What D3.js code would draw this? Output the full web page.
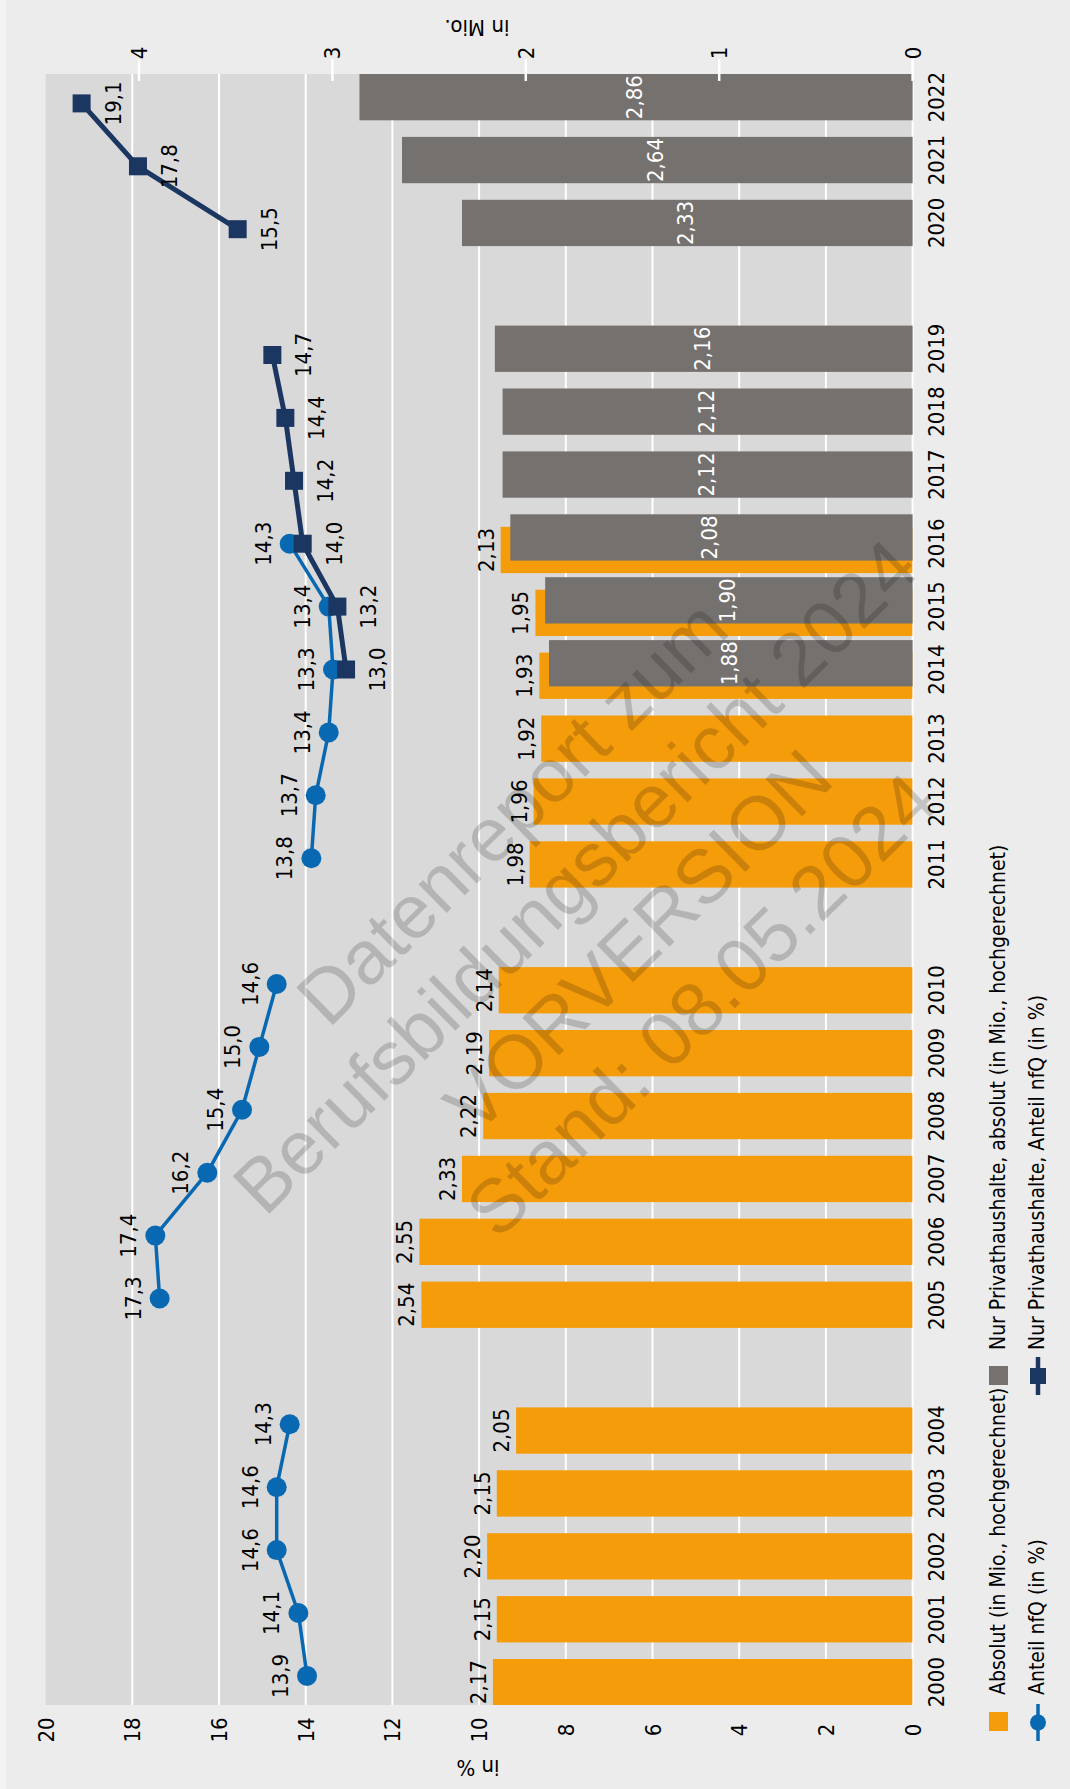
<!DOCTYPE html>
<html>
<head>
<meta charset="utf-8">
<script src="https://cdn.jsdelivr.net/npm/d3@7"></script>
<style>
  html, body { margin: 0; padding: 0; background: #ececec; }
  svg { display: block; }
</style>
</head>
<body>
<script>
// ---------------- DATA ----------------
const years = ["2000","2001","2002","2003","2004","2005","2006","2007","2008","2009","2010","2011","2012","2013","2014","2015","2016","2017","2018","2019","2020","2021","2022"];
// slot sequence incl. empty gap slots (bottom to top)
const slots = ["2000","2001","2002","2003","2004","gapA","2005","2006","2007","2008","2009","2010","gapB","2011","2012","2013","2014","2015","2016","2017","2018","2019","gapC","2020","2021","2022"];
// Absolut (in Mio., hochgerechnet)
const absolut = [2.17,2.15,2.20,2.15,2.05,2.54,2.55,2.33,2.22,2.19,2.14,1.98,1.96,1.92,1.93,1.95,2.13,null,null,null,null,null,null];
// Nur Privathaushalte, absolut (in Mio., hochgerechnet)
const privAbsolut = [null,null,null,null,null,null,null,null,null,null,null,null,null,null,1.88,1.90,2.08,2.12,2.12,2.16,2.33,2.64,2.86];
// Anteil nfQ (in %)
const anteil = [13.9,14.1,14.6,14.6,14.3,17.3,17.4,16.2,15.4,15.0,14.6,13.8,13.7,13.4,13.3,13.4,14.3,null,null,null,null,null,null];
// Nur Privathaushalte, Anteil nfQ (in %)
const privAnteil = [null,null,null,null,null,null,null,null,null,null,null,null,null,null,13.0,13.2,14.0,14.2,14.4,14.7,15.5,17.8,19.1];
const pctTicks = [0,2,4,6,8,10,12,14,16,18,20];
const mioTicks = [0,1,2,3,4];
const legendLabels = ["Absolut (in Mio., hochgerechnet)","Anteil nfQ (in %)","Nur Privathaushalte, absolut (in Mio., hochgerechnet)","Nur Privathaushalte, Anteil nfQ (in %)"];
const axisTitles = {pct: "in %", mio: "in Mio."};
const watermark = ["Datenreport zum","Berufsbildungsbericht 2024","VORVERSION","Stand: 08.05.2024"];

// ---------------- STYLE ----------------
const W = 1070, H = 1789;
const FONT = '"Liberation Sans Narrow","Arial Narrow","DejaVu Sans Condensed",sans-serif';
const C = { orange: "#f59c0b", gray: "#75716f", blue: "#0868b1", navy: "#1b3661", plot: "#d9d9d9", bg: "#ececec" };
const plot = { left: 45.6, right: 912.6, top: 74, bottom: 1705 };
const STEP = 62.9, BW = 46.3, OFF = 12.5;

const svg = d3.select("body").append("svg").attr("width", W).attr("height", H);
svg.append("rect").attr("width", W).attr("height", H).attr("fill", C.bg);
svg.append("rect").attr("width", 6).attr("height", H).attr("fill", "#f3f3f3");

const xPct = d3.scaleLinear().domain([0, 20]).range([plot.right, plot.left]);
// line series are drawn with a small constant offset, as in the original
const xLine = d3.scaleLinear().domain([0, 20]).range([plot.right - 3, plot.left - 3]);
const xMio = d3.scaleLinear().domain([0, 4]).range([plot.right, 139]);
const yBand = d3.scaleBand().domain(slots.slice().reverse())
  .range([plot.top, plot.top + STEP * slots.length]).paddingInner(0).paddingOuter(0);

const fmt2 = v => d3.format(".2f")(v).replace(".", ",");
const fmt1 = v => d3.format(".1f")(v).replace(".", ",");

const rows = years.map((y, i) => ({ year: y, abs: absolut[i], pabs: privAbsolut[i], ant: anteil[i], pant: privAnteil[i] }));
const byYear = new Map(rows.map(r => [r.year, r]));
const slotRows = slots.map(s => byYear.get(s) || { year: s, abs: null, pabs: null, ant: null, pant: null });

const grayTop = r => yBand(r.year);
const orangeTop = r => yBand(r.year) + OFF;
const pointY = r => yBand(r.year) + (OFF + BW) / 2;

// plot background
svg.append("rect").attr("x", plot.left).attr("y", plot.top)
  .attr("width", plot.right - plot.left).attr("height", plot.bottom - plot.top).attr("fill", C.plot);

// gridlines
svg.append("g").selectAll("line").data(pctTicks.filter(t => t < 20)).join("line")
  .attr("x1", d => xPct(d)).attr("x2", d => xPct(d))
  .attr("y1", plot.top).attr("y2", plot.bottom)
  .attr("stroke", "#fff").attr("stroke-width", 2);

svg.append("clipPath").attr("id", "pc").append("rect")
  .attr("x", plot.left).attr("y", plot.top).attr("width", plot.right - plot.left).attr("height", plot.bottom - plot.top);

// orange bars
const absRows = rows.filter(r => r.abs != null);
svg.append("g").attr("clip-path", "url(#pc)").selectAll("rect").data(absRows).join("rect")
  .attr("x", d => xMio(d.abs)).attr("width", d => xMio(0) - xMio(d.abs))
  .attr("y", d => orangeTop(d)).attr("height", BW).attr("fill", C.orange);

// gray bars
const pRows = rows.filter(r => r.pabs != null);
svg.append("g").selectAll("rect").data(pRows).join("rect")
  .attr("x", d => xMio(d.pabs)).attr("width", d => xMio(0) - xMio(d.pabs))
  .attr("y", d => grayTop(d)).attr("height", BW).attr("fill", C.gray);

// orange labels
svg.append("g").selectAll("text").data(absRows).join("text")
  .attr("transform", d => `translate(${xMio(d.abs) - 7},${orangeTop(d) + BW / 2}) rotate(-90)`)
  .attr("text-anchor", "middle").attr("font-family", FONT).attr("font-size", 22).attr("fill", "#000")
  .text(d => fmt2(d.abs));

// gray labels (white, centered)
svg.append("g").selectAll("text").data(pRows).join("text")
  .attr("transform", d => `translate(${(xMio(d.pabs) + xMio(0)) / 2 + 6},${grayTop(d) + BW / 2}) rotate(-90)`)
  .attr("text-anchor", "middle").attr("font-family", FONT).attr("font-size", 22).attr("fill", "#fff")
  .text(d => fmt2(d.pabs));

// Mio ticks (top)
svg.append("g").selectAll("line").data(mioTicks).join("line")
  .attr("x1", d => xMio(d)).attr("x2", d => xMio(d)).attr("y1", 59).attr("y2", 81)
  .attr("stroke", "#fff").attr("stroke-width", 2.5);
svg.append("g").selectAll("text").data(mioTicks).join("text")
  .attr("transform", d => `translate(${xMio(d) + 8},53) rotate(-90)`)
  .attr("text-anchor", "middle").attr("font-family", FONT).attr("font-size", 22).attr("fill", "#000")
  .text(d => d);

// % tick labels (bottom)
svg.append("g").selectAll("text").data(pctTicks).join("text")
  .attr("transform", d => `translate(${xPct(d) + 8},1730) rotate(-90)`)
  .attr("text-anchor", "middle").attr("font-family", FONT).attr("font-size", 22).attr("fill", "#000")
  .text(d => d);

// axis titles (upside down)
svg.append("text").attr("transform", "translate(477,20) rotate(180)")
  .attr("text-anchor", "middle").attr("font-family", FONT).attr("font-size", 22).attr("fill", "#000")
  .text(axisTitles.mio);
svg.append("text").attr("transform", "translate(478,1760) rotate(180)")
  .attr("text-anchor", "middle").attr("font-family", FONT).attr("font-size", 22).attr("fill", "#000")
  .text(axisTitles.pct);

// year labels
svg.append("g").selectAll("text").data(rows).join("text")
  .attr("transform", d => {
    const cs = [];
    if (d.pabs != null) cs.push(grayTop(d) + BW / 2);
    if (d.abs != null) cs.push(orangeTop(d) + BW / 2);
    return `translate(943.5,${d3.mean(cs)}) rotate(-90)`;
  })
  .attr("text-anchor", "middle").attr("font-family", FONT).attr("font-size", 22).attr("fill", "#000")
  .text(d => d.year);

// lines
const lineAnt = d3.line().defined(d => d.ant != null).x(d => xLine(d.ant)).y(d => pointY(d));
const linePant = d3.line().defined(d => d.pant != null).x(d => xLine(d.pant)).y(d => pointY(d));

svg.append("path").datum(slotRows).attr("d", lineAnt).attr("fill", "none")
  .attr("stroke", C.blue).attr("stroke-width", 3.5).attr("stroke-linejoin", "round");
const antRows = rows.filter(r => r.ant != null);
svg.append("g").selectAll("circle").data(antRows).join("circle")
  .attr("cx", d => xLine(d.ant)).attr("cy", d => pointY(d)).attr("r", 10).attr("fill", C.blue);

svg.append("path").datum(slotRows).attr("d", linePant).attr("fill", "none")
  .attr("stroke", C.navy).attr("stroke-width", 5).attr("stroke-linejoin", "round");
const pantRows = rows.filter(r => r.pant != null);
svg.append("g").selectAll("rect").data(pantRows).join("rect")
  .attr("x", d => xLine(d.pant) - 9).attr("y", d => pointY(d) - 9)
  .attr("width", 18).attr("height", 18).attr("fill", C.navy);

// point labels
svg.append("g").selectAll("text").data(antRows).join("text")
  .attr("transform", d => `translate(${xLine(d.ant) - 19},${pointY(d)}) rotate(-90)`)
  .attr("text-anchor", "middle").attr("font-family", FONT).attr("font-size", 22).attr("fill", "#000")
  .text(d => fmt1(d.ant));
svg.append("g").selectAll("text").data(pantRows).join("text")
  .attr("transform", d => `translate(${xLine(d.pant) + 39},${pointY(d)}) rotate(-90)`)
  .attr("text-anchor", "middle").attr("font-family", FONT).attr("font-size", 22).attr("fill", "#000")
  .text(d => fmt1(d.pant));

// legend
const lg = svg.append("g");
lg.append("rect").attr("x", 989).attr("y", 1712).attr("width", 19).attr("height", 19).attr("fill", C.orange);
lg.append("rect").attr("x", 989).attr("y", 1366).attr("width", 19).attr("height", 19).attr("fill", C.gray);
lg.append("line").attr("x1", 1038).attr("x2", 1038).attr("y1", 1704).attr("y2", 1741).attr("stroke", C.blue).attr("stroke-width", 3.5);
lg.append("circle").attr("cx", 1038).attr("cy", 1722.5).attr("r", 8).attr("fill", C.blue);
lg.append("line").attr("x1", 1038).attr("x2", 1038).attr("y1", 1357).attr("y2", 1395).attr("stroke", C.navy).attr("stroke-width", 4.5);
lg.append("rect").attr("x", 1030).attr("y", 1368).attr("width", 16).attr("height", 16).attr("fill", C.navy);
const legPos = [[1005, 1695], [1044, 1695], [1005, 1350], [1044, 1350]];
lg.selectAll("text").data(legendLabels).join("text")
  .attr("transform", (d, i) => `translate(${legPos[i][0]},${legPos[i][1]}) rotate(-90)`)
  .attr("text-anchor", "start").attr("font-family", FONT).attr("font-size", 21).attr("fill", "#000")
  .text(d => d);

// watermark
const wm = svg.append("g").attr("transform", "translate(606,908) rotate(-44.5)");
wm.selectAll("text").data(watermark).join("text")
  .attr("x", 0).attr("y", (d, i) => (i - 1.5) * 90 + 27)
  .attr("text-anchor", "middle").attr("font-family", '"Liberation Sans", Arial, sans-serif')
  .attr("font-size", 76).attr("fill", "#000").attr("fill-opacity", 0.17)
  .text(d => d);
</script>
</body>
</html>
